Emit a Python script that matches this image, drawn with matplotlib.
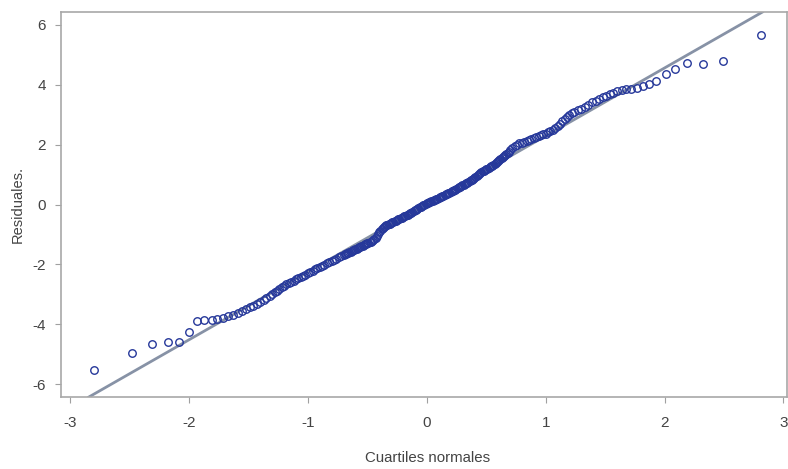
import matplotlib
matplotlib.use("Agg")
import matplotlib.pyplot as plt

# Theoretical normal quantiles (x) and ordered residuals (y)
quantiles = [
    -2.80, -2.48, -2.31, -2.18, -2.08, -2.00, -1.93, -1.87, -1.81, -1.76,
    -1.71, -1.67, -1.63, -1.59, -1.55, -1.52, -1.49, -1.46, -1.43, -1.40,
    -1.37, -1.35, -1.32, -1.30, -1.28, -1.26, -1.24, -1.22, -1.20, -1.18,
    -1.16, -1.14, -1.12, -1.10, -1.08, -1.06, -1.04, -1.02, -1.00, -0.98,
    -0.96, -0.94, -0.92, -0.90, -0.88, -0.86, -0.84, -0.82, -0.80, -0.78,
    -0.76, -0.74, -0.72,
    -0.70, -0.69, -0.68, -0.67, -0.66, -0.65, -0.64, -0.63, -0.62, -0.61,
    -0.60, -0.59, -0.58, -0.57, -0.56, -0.55, -0.54, -0.53, -0.52, -0.51,
    -0.50, -0.49, -0.48, -0.47, -0.46, -0.45, -0.44, -0.43, -0.42, -0.41,
    -0.40, -0.39, -0.38, -0.37, -0.36, -0.35, -0.34, -0.33, -0.32, -0.31,
    -0.30, -0.29, -0.28, -0.27, -0.26, -0.25, -0.24, -0.23, -0.22, -0.21,
    -0.20, -0.19, -0.18, -0.17, -0.16, -0.15, -0.14, -0.13, -0.12, -0.11,
    -0.10, -0.09, -0.08, -0.07, -0.06, -0.05, -0.04, -0.03, -0.02, -0.01,
    0.00, 0.01, 0.02, 0.03, 0.04, 0.05, 0.06, 0.07, 0.08, 0.09,
    0.10, 0.11, 0.12, 0.13, 0.14, 0.15, 0.16, 0.17, 0.18, 0.19,
    0.20, 0.21, 0.22, 0.23, 0.24, 0.25, 0.26, 0.27, 0.28, 0.29,
    0.30, 0.31, 0.32, 0.33, 0.34, 0.35, 0.36, 0.37, 0.38, 0.39,
    0.40, 0.41, 0.42, 0.43, 0.44, 0.45, 0.46, 0.47, 0.48, 0.49,
    0.50, 0.51, 0.52, 0.53, 0.54, 0.55, 0.56, 0.57, 0.58, 0.59,
    0.60, 0.61, 0.62, 0.63, 0.64, 0.65, 0.66, 0.67, 0.68, 0.69,
    0.70, 0.72, 0.74, 0.76, 0.78, 0.80, 0.82,
    0.84, 0.86, 0.88, 0.90, 0.92, 0.94, 0.96, 0.98, 1.00, 1.02,
    1.04, 1.06, 1.08, 1.10, 1.12, 1.14, 1.16, 1.18, 1.20, 1.22,
    1.24, 1.27, 1.30, 1.33, 1.36, 1.39, 1.42, 1.45, 1.48, 1.51,
    1.54, 1.57, 1.60, 1.64, 1.68, 1.72, 1.77, 1.82, 1.87, 1.93,
    2.01, 2.09, 2.19, 2.32, 2.49, 2.81,
]
residuals = [
    -5.52, -4.95, -4.65, -4.60, -4.60, -4.25, -3.88, -3.86, -3.85, -3.83,
    -3.78, -3.73, -3.68, -3.62, -3.55, -3.48, -3.43, -3.38, -3.32, -3.25,
    -3.18, -3.12, -3.05, -2.99, -2.93, -2.88, -2.82, -2.76, -2.71, -2.67,
    -2.62, -2.58, -2.54, -2.50, -2.46, -2.42, -2.38, -2.34, -2.30, -2.26,
    -2.21, -2.17, -2.13, -2.09, -2.05, -2.01, -1.97, -1.93, -1.89, -1.85,
    -1.81, -1.77, -1.73,
    -1.69, -1.67, -1.65, -1.63, -1.61, -1.59, -1.57, -1.55, -1.53, -1.51,
    -1.49, -1.47, -1.45, -1.43, -1.41, -1.39, -1.37, -1.35, -1.33, -1.31,
    -1.30, -1.28, -1.26, -1.24, -1.22, -1.20, -1.16, -1.11, -1.05, -0.99,
    -0.93, -0.87, -0.82, -0.78, -0.75, -0.72, -0.70, -0.68, -0.66, -0.64,
    -0.62, -0.60, -0.58, -0.56, -0.54, -0.52, -0.50, -0.48, -0.46, -0.44,
    -0.42, -0.40, -0.38, -0.36, -0.34, -0.32, -0.30, -0.27, -0.25, -0.22,
    -0.20, -0.17, -0.15, -0.12, -0.10, -0.07, -0.05, -0.02, 0.00, 0.02,
    0.04, 0.06, 0.08, 0.10, 0.12, 0.13, 0.15, 0.16, 0.18, 0.20,
    0.22, 0.24, 0.26, 0.28, 0.30, 0.32, 0.34, 0.36, 0.38, 0.40,
    0.42, 0.44, 0.46, 0.48, 0.50, 0.53, 0.55, 0.57, 0.59, 0.62,
    0.64, 0.66, 0.68, 0.71, 0.73, 0.76, 0.78, 0.81, 0.83, 0.86,
    0.89, 0.92, 0.95, 0.99, 1.02, 1.05, 1.08, 1.11, 1.13, 1.16,
    1.18, 1.20, 1.22, 1.25, 1.27, 1.30, 1.32, 1.35, 1.38, 1.41,
    1.44, 1.47, 1.51, 1.54, 1.58, 1.61, 1.65, 1.69, 1.73, 1.77,
    1.81, 1.89, 1.95, 2.00, 2.04, 2.07, 2.10,
    2.13, 2.16, 2.19, 2.22, 2.25, 2.28, 2.31, 2.34, 2.37, 2.41,
    2.45, 2.50, 2.56, 2.63, 2.70, 2.78, 2.86, 2.93, 2.99, 3.04,
    3.08, 3.14, 3.20, 3.27, 3.34, 3.41, 3.47, 3.53, 3.58, 3.63,
    3.68, 3.72, 3.78, 3.81, 3.85, 3.87, 3.90, 3.95, 4.02, 4.12,
    4.35, 4.54, 4.71, 4.68, 4.79, 5.65,
]
# Reference line
line_intercept = 0.02
line_slope = 2.27

x_ticks = [-3, -2, -1, 0, 1, 2, 3]
y_ticks = [-6, -4, -2, 0, 2, 4, 6]
x_label = "Cuartiles normales"
y_label = "Residuales."

plt.rcParams["font.family"] = ["Liberation Sans", "DejaVu Sans"]

fig = plt.figure(figsize=(7.88, 4.69), dpi=100)
ax = fig.add_axes([61 / 788, 72 / 469, 726 / 788, 385 / 469])

ax.axline((0, line_intercept), slope=line_slope, color="#8792a6",
          linewidth=2.0, zorder=1)
ax.plot(quantiles, residuals, linestyle="none", marker="o", markersize=5.4,
        markerfacecolor="none", markeredgecolor="#26389a",
        markeredgewidth=1.0, zorder=2)

ax.set_xlim(-3.076, 3.03)
ax.set_ylim(-6.43, 6.43)
ax.set_xticks(x_ticks)
ax.set_yticks(y_ticks)
ax.set_xticklabels([str(t) for t in x_ticks])
ax.set_yticklabels([str(t) for t in y_ticks])

for s in ax.spines.values():
    s.set_color("#a8a8a8")
    s.set_linewidth(1.2)

ax.tick_params(axis="both", colors="#a0a0a0", labelcolor="#444444",
               labelsize=11, length=4.5, width=0.8)
ax.tick_params(axis="x", pad=9)
ax.tick_params(axis="y", pad=6.5)

fig.text(428 / 788, 1 - 458 / 469, x_label, ha="center", va="center",
         fontsize=10.8, color="#444444")
fig.text(18 / 788, 1 - 204 / 469, y_label, ha="center", va="center",
         rotation=90, fontsize=10.5, color="#444444")

fig.savefig("out.png", dpi=100)
